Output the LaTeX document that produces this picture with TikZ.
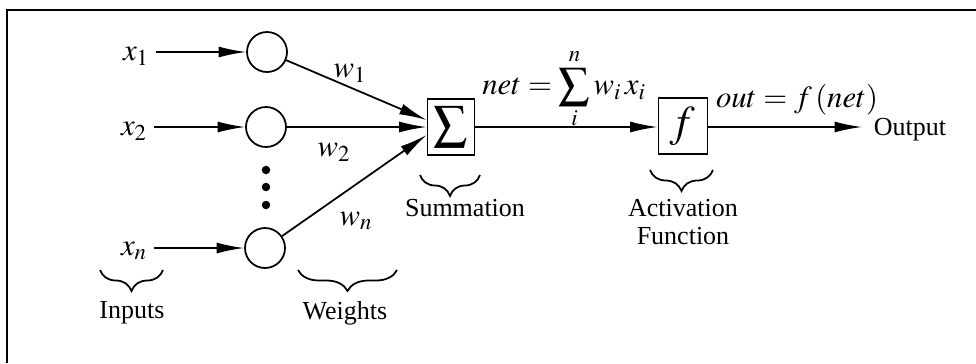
\documentclass[tikz,border=0pt]{standalone}
\usepackage{mathptmx}
\usepackage{fontspec}
\setmainfont{Liberation Serif}
\usetikzlibrary{arrows.meta,decorations.pathreplacing}

\tikzset{
  neuron/.style={draw,circle,minimum size=0.8cm,inner sep=0pt},
  unitbox/.style={draw,minimum width=0.94cm,minimum height=1.12cm,inner sep=0pt},
  underbrace/.style={decorate,decoration={brace,mirror,amplitude=0.42cm}},
  mathlabel/.style={font=\fontsize{17.5}{20}\selectfont},
}

\begin{document}
\begin{tikzpicture}[x=0.02cm,y=-0.02cm,line width=1pt,
  >={Latex[length=0.55cm,width=0.22cm]},
  font=\fontsize{14.8}{17}\selectfont]
  \useasboundingbox (0,0) rectangle (976,363);
  % frame
  \draw[line width=1.2pt] (7,363) -- (7,10) -- (976,10);

  % inputs and their nodes
  \node[neuron] (in1) at (267,52) {};
  \node[neuron] (in2) at (266,127) {};
  \node[neuron] (inn) at (265,248) {};
  \node[mathlabel] (x1) at (136,56) {$x_1$};
  \node[mathlabel] (x2) at (134,131) {$x_2$};
  \node[mathlabel] (xn) at (134,251) {$x_n$};
  \draw[->] (x1.east |- in1) -- (in1);
  \draw[->] (x2.east |- in2) -- (in2);
  \draw[->] (xn.east |- inn) -- (inn);
  \foreach \y in {170,187,205}
    \fill (266,\y) circle (0.085cm);

  % summation and activation
  \node[unitbox,font=\fontsize{19}{22}\selectfont] (sum) at (451,127) {$\displaystyle\sum$};
  \node[unitbox,minimum width=0.98cm,font=\fontsize{25}{28}\selectfont] (act) at (683,126) {$f$};
  \node[anchor=west,inner sep=0pt] (outp) at (873,130) {Output};
  \draw[->] (in1) -- ([yshift=0.14cm]sum.west);
  \draw[->] (in2) -- (sum.west);
  \draw[->] (inn) -- ([yshift=-0.16cm]sum.west);
  \draw[->] (sum) -- (sum -| act.west);
  \draw[->] (act.east |- sum) -- ([xshift=-0.22cm]outp.west |- sum);

  % labels
  \node[mathlabel] at (350,73) {$w_1$};
  \node[mathlabel] at (334,152) {$w_2$};
  \node[mathlabel] at (356,221) {$w_n$};
  \node[mathlabel] at (564,89) {$net=\displaystyle\sum_i^n w_i\,x_i$};
  \node[mathlabel] at (797,100) {$out=f\,(net)$};

  % braces
  \draw[underbrace] (100,270) -- (163,270);
  \draw[underbrace] (298,270) -- (397,270);
  \draw[underbrace] (420,175) -- (480,175);
  \draw[underbrace] (650,170) -- (713,170);
  \node (inputs) at (132,313) {Inputs};
  \node (weights) at (345,313) {Weights};
  \node (summ) at (465,208) {Summation};
  \node[align=center] (actf) at (683,222) {Activation\\[-1pt]Function};
\end{tikzpicture}
\end{document}
